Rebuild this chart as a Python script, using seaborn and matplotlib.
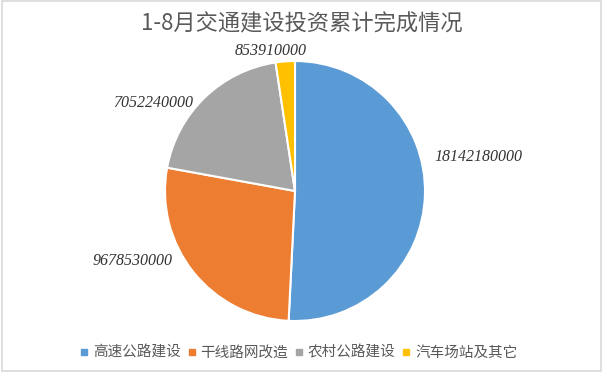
import matplotlib
matplotlib.use('Agg')
import matplotlib.pyplot as plt
import seaborn as sns
from matplotlib.patches import Rectangle

sns.set_theme(style='white')
plt.rcParams['font.family'] = ['Noto Sans CJK SC', 'DejaVu Sans']

# data
categories = ['高速公路建设', '干线路网改造', '农村公路建设', '汽车场站及其它']
values = [18142180000, 9678530000, 7052240000, 853910000]
value_labels = ['18142180000', '9678530000', '7052240000', '853910000']
title = '1-8月交通建设投资累计完成情况'

colors = ['#5B9BD5', '#ED7D31', '#A5A5A5', '#FFC000']
# label positions in pie data coords (radius 1)
label_pos = [(1.41, 0.26), (-1.25, -0.54), (-1.09, 0.68), (-0.19, 1.08)]

fig = plt.figure(figsize=(6.03, 3.72), dpi=100)
ax = fig.add_axes([165 / 603, 51 / 372, 260 / 603, 260 / 372])

wedges, _ = ax.pie(values, colors=colors, startangle=90, counterclock=False,
                   radius=1, wedgeprops=dict(edgecolor='white', linewidth=1.5))
ax.set_xlim(-1, 1)
ax.set_ylim(-1, 1)
ax.set_aspect('equal')
ax.axis('off')

for (x, y), txt in zip(label_pos, value_labels):
    ax.text(x, y, txt, ha='center', va='center', fontsize=11.5,
            family='Liberation Serif', style='italic', color='#333333')

fig.text(0.5, 0.935, title, ha='center', va='center', fontsize=16,
         color='#595959')

handles = [plt.Line2D([], [], marker='s', linestyle='', markersize=5,
                      markerfacecolor=c, markeredgecolor=c) for c in colors]
fig.legend(handles, categories, loc='center', bbox_to_anchor=(0.494, 0.052),
           ncol=4, frameon=False, fontsize=10.5, handletextpad=0.2,
           columnspacing=0.35, handlelength=0.8, labelcolor='#595959')

fig.patches.append(Rectangle((0.003, 0.003), 0.994, 0.994, transform=fig.transFigure,
                             fill=False, edgecolor='#D9D9D9', linewidth=1.2))

fig.savefig('out.png', dpi=100, facecolor='white')
